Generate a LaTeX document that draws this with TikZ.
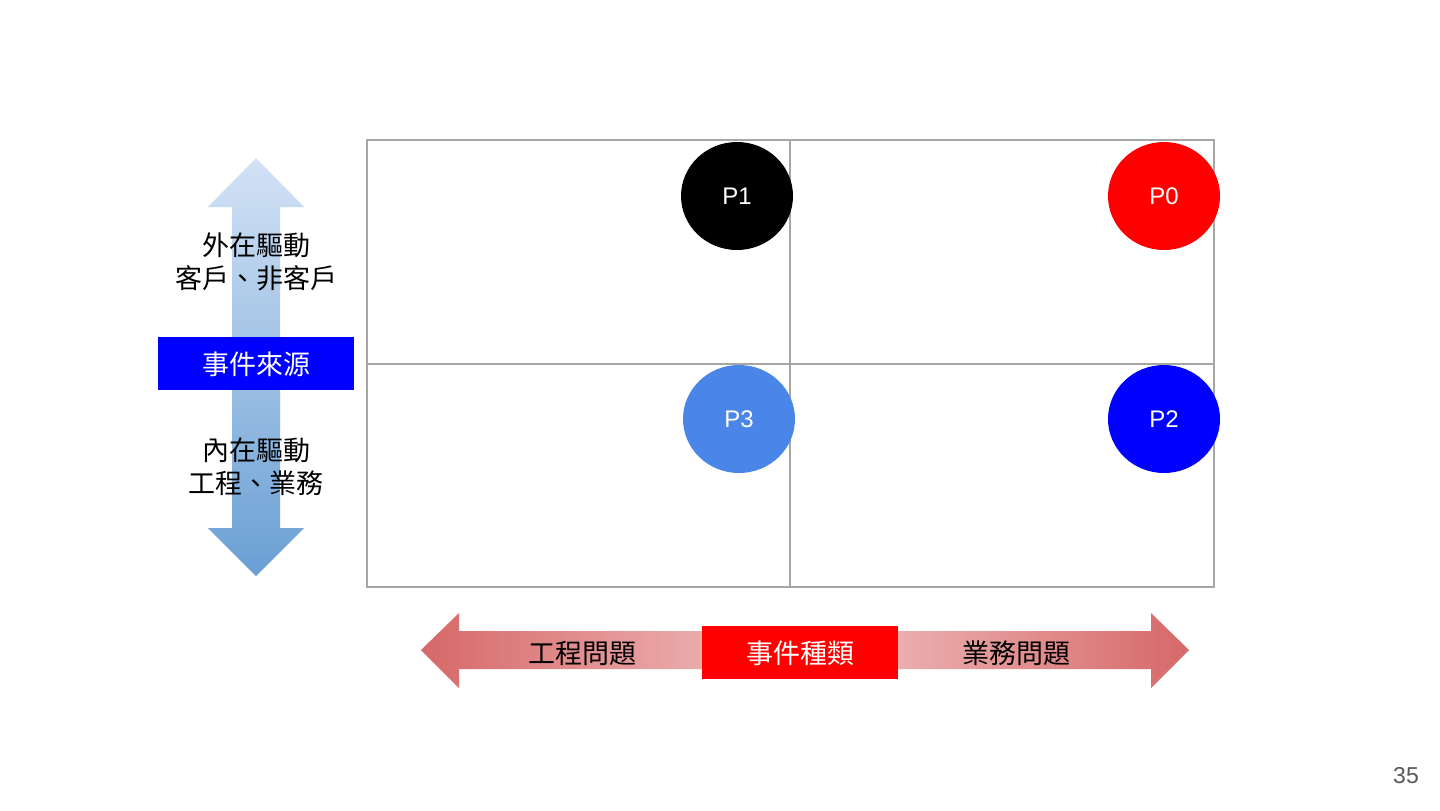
\documentclass[tikz,border=0pt]{standalone}
\usepackage{fontspec}
\setmainfont{Liberation Sans}
\newfontfamily\cjk{Noto Sans CJK TC}
\usepackage{tikz}
\usetikzlibrary{shapes.geometric,positioning}
\definecolor{gridgrey}{RGB}{166,166,166}
\definecolor{skyblue}{RGB}{74,134,232}
\definecolor{arrowtop}{RGB}{210,226,245}
\definecolor{arrowbot}{RGB}{106,159,212}
\definecolor{arrowend}{RGB}{214,104,104}
\definecolor{arrowmid}{RGB}{242,196,196}
\definecolor{pagegrey}{RGB}{89,89,89}

\tikzset{
  prio/.style={ellipse,minimum width=56pt,minimum height=54pt,inner sep=0pt,
    text=white,font=\fontsize{12}{14}\selectfont},
  tag/.style={inner sep=0pt,text=white,font=\cjk\fontsize{13.5}{16.5}\selectfont},
  lbl/.style={inner sep=0pt,align=center,font=\cjk\fontsize{13.5}{16.5}\selectfont}
}

\begin{document}
\begin{tikzpicture}[x=0.5pt,y=-0.5pt]
     \useasboundingbox[fill=white] (0,0) rectangle (1440,810);
     % grid
     \draw[gridgrey,line width=1pt] (367,140) rectangle (1214,587);
     \draw[gridgrey,line width=1pt] (790,140)--(790,587);
     \draw[gridgrey,line width=1pt] (367,364)--(1214,364);
     % arrows
     \shade[top color=arrowtop,bottom color=arrowbot]
       (256,158)--(304,207)--(280,207)--(280,528)--(304,528)--(256,576)
       --(208,528)--(232,528)--(232,207)--(208,207)--cycle;
     \shade[left color=arrowend,right color=arrowend,middle color=arrowmid]
       (421,650)--(459,613)--(459,631)--(1151,631)--(1151,613)--(1189,650)
       --(1151,688)--(1151,669)--(459,669)--(459,688)--cycle;
     % boxes
     \fill[blue] (158,337) rectangle (354,390);
     \fill[red] (702,626) rectangle (898,679);
     \node[tag] (source) at (256,364) {事件來源};
     \node[tag] (kind) at (800,653) {事件種類};
     \node[lbl] (outer) at (256,262) {外在驅動\\客戶、非客戶};
     \node[lbl] (inner) at (256,467) {內在驅動\\工程、業務};
     \node[lbl] (eng) at (582,653) {工程問題};
     \node[lbl] (biz) at (1016,653) {業務問題};
     % priorities
     \node[prio,fill=black] (p1) at (737,196) {P1};
     \node[prio,fill=red] (p0) at (1164,196) {P0};
     \node[prio,fill=skyblue] (p3) at (739,419) {P3};
     \node[prio,fill=blue] (p2) at (1164,419) {P2};
     \node[text=pagegrey,font=\fontsize{11.5}{14}\selectfont] (page) at (1406,776) {35};
   \end{tikzpicture}
\end{document}
